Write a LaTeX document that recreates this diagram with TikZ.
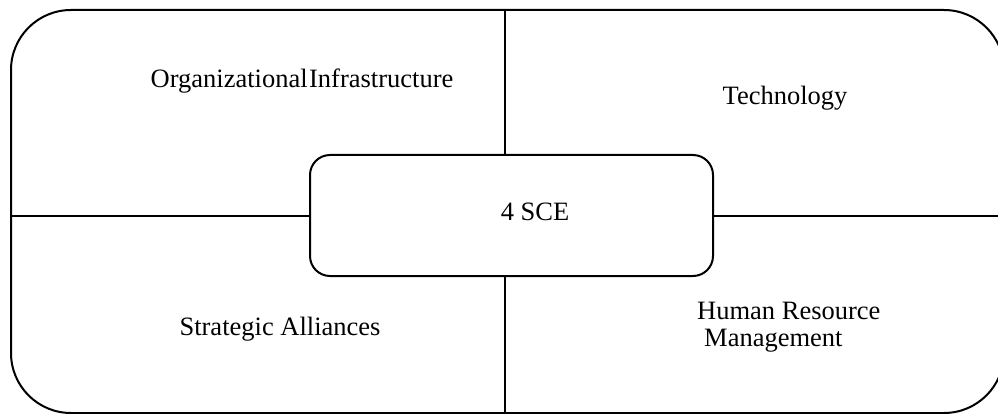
\documentclass[tikz,border=0pt]{standalone}
\usepackage{fontspec}
\setmainfont{Liberation Serif}
\usetikzlibrary{positioning, calc}

\begin{document}
\begin{tikzpicture}[
        x=1pt, y=-1pt,
        frame/.style={rectangle, draw, line width=2pt, rounded corners=60pt, minimum width=993pt, minimum height=403pt, inner sep=0pt},
        core/.style={rectangle, draw, line width=2pt, rounded corners=20pt, minimum width=403pt, minimum height=121pt, inner sep=0pt, fill=white},
        lbl/.style={anchor=base, inner sep=0pt, font=\fontsize{26.5}{27}\selectfont, align=left},
        split/.style={line width=2pt}
    ]
        \useasboundingbox (0,0) rectangle (998,414);

        % Outer frame and centre
        \node[frame] (outer) at (507.5,211.5) {};
        \node[core] (sce) at (511.5,215.5) {};
        \node[lbl] (scetext) at (535,220) {4 SCE};

        % Dividing lines
        \coordinate (vline) at (505,215);
        \draw[split] (vline |- outer.north) -- (vline |- sce.north);
        \draw[split] (vline |- sce.south) -- (vline |- outer.south);
        \draw[split] (outer.west |- sce.west) -- (sce.west);
        \draw[split] (sce.east) -- (outer.east |- sce.east);

        % Quadrants
        \node[lbl] (infra) at (302,88) {Organizational\hspace{1.5pt}Infrastructure};
        \node[lbl] (tech) at (785,105) {Technology};
        \node[lbl] (alliances) at (280,335) {Strategic Alliances};
        \node[lbl, anchor=base west] (hrm) at (697,346) {Human Resource\\\hspace*{7pt}Management};
    \end{tikzpicture}
\end{document}
